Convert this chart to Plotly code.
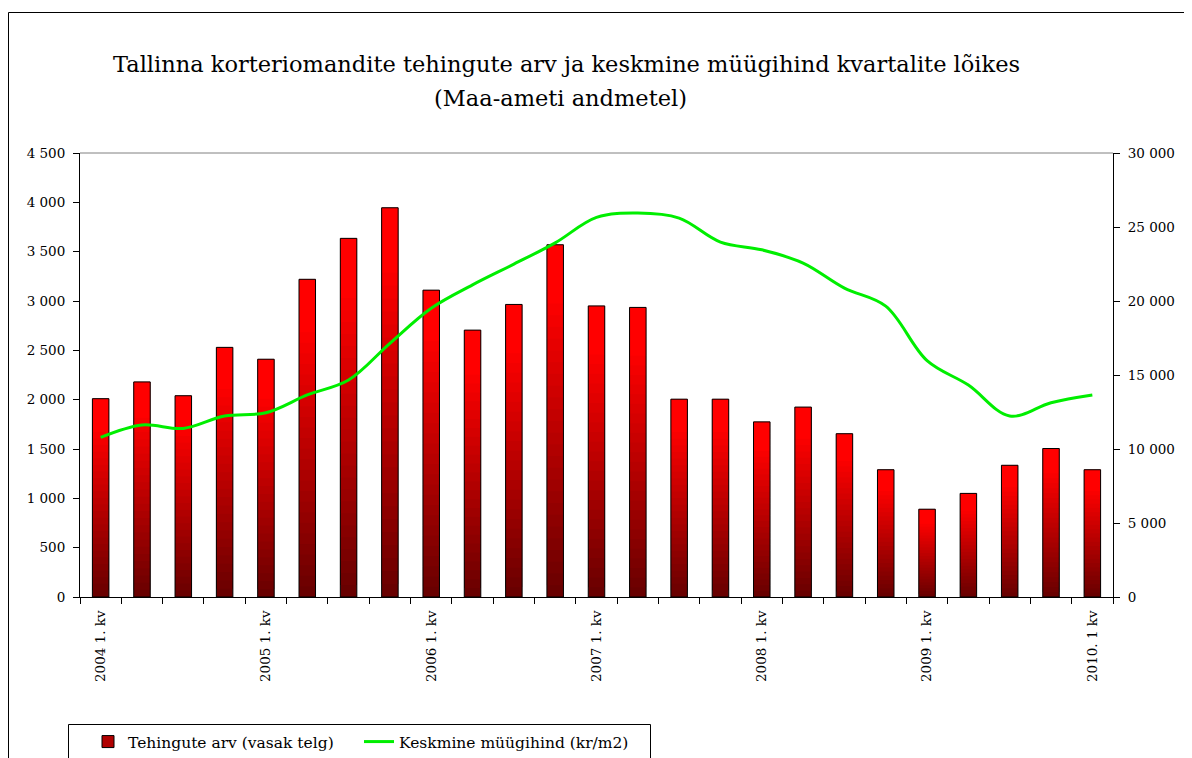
import plotly.graph_objects as go

quarters = [
    "2004 1. kv", "2004 2. kv", "2004 3. kv", "2004 4. kv",
    "2005 1. kv", "2005 2. kv", "2005 3. kv", "2005 4. kv",
    "2006 1. kv", "2006 2. kv", "2006 3. kv", "2006 4. kv",
    "2007 1. kv", "2007 2. kv", "2007 3. kv", "2007 4. kv",
    "2008 1. kv", "2008 2. kv", "2008 3. kv", "2008 4. kv",
    "2009 1. kv", "2009 2. kv", "2009 3. kv", "2009 4. kv",
    "2010. 1 kv",
]
tick_text = [
    "2004 1. kv", "", "", "",
    "2005 1. kv", "", "", "",
    "2006 1. kv", "", "", "",
    "2007 1. kv", "", "", "",
    "2008 1. kv", "", "", "",
    "2009 1. kv", "", "", "",
    "2010. 1 kv",
]
counts = [2010, 2180, 2040, 2530, 2410, 3220, 3635, 3945, 3110, 2705, 2965, 3570,
          2950, 2935, 2005, 2005, 1775, 1925, 1655, 1290, 890, 1050, 1335, 1505, 1290]
prices = [10780, 11620, 11390, 12230, 12450, 13650, 14660, 17140, 19510, 21090, 22490, 23930,
          25650, 25940, 25600, 23980, 23460, 22560, 20870, 19650, 15970, 14320, 12230, 13130, 13650]

title_line1 = "Tallinna korteriomandite tehingute arv ja keskmine müügihind kvartalite lõikes"
title_line2 = "(Maa-ameti andmetel)"
name_bars = "Tehingute arv (vasak telg)"
name_line = "Keskmine müügihind (kr/m2)"

FONT = "DejaVu Serif"
OFF = 8                      # page body margin
W, H = 1192 - OFF, 758 - OFF
# plot area in screenshot pixels
L, R, T, B = 80, 1113, 153, 597

fig = go.Figure()

# gradient bars: each bar split into N overlapping vertical segments
N = 30
BAR_W = 0.4
for k in range(N):
    f = (k + 0.5) / N
    t = min(1.0, f / 0.85)
    r = int(0x66 + (0xFF - 0x66) * t)
    col = f"rgb({r},0,0)"
    fig.add_trace(go.Bar(
        x=quarters,
        y=[min(2 * c / N, c - c * k / N) for c in counts],
        base=[c * k / N for c in counts],
        width=BAR_W,
        marker=dict(color=col, line=dict(width=0)),
        showlegend=False,
        hoverinfo="skip",
    ))

# outline
fig.add_trace(go.Bar(
    x=quarters, y=counts, width=BAR_W,
    marker=dict(color="rgba(0,0,0,0)", line=dict(color="black", width=1)),
    showlegend=False,
))

# legend entry for bars
fig.add_trace(go.Bar(
    x=[None], y=[None], name=name_bars,
    marker=dict(color="#b00000", line=dict(color="black", width=1)),
    showlegend=True,
))

fig.add_trace(go.Scatter(
    x=quarters, y=prices, yaxis="y2", name=name_line,
    mode="lines", line=dict(color="#00ee00", width=3, shape="spline", smoothing=1.0),
))


def px_x(px):
    return (px - L) / (R - L)


def px_y(py):
    return (B - py) / (B - T)


def cont_x(px):
    return (px - OFF) / W


def cont_y(py):
    return 1 - (py - OFF) / H


fig.update_layout(
    width=W, height=H,
    margin=dict(l=L - OFF, r=W - (R - OFF), t=T - OFF, b=H - (B - OFF), pad=0),
    paper_bgcolor="white", plot_bgcolor="white",
    barmode="overlay",
    separators=", ",
    font=dict(family=FONT, size=13.5, color="black"),
    showlegend=True,
    legend=dict(
        orientation="h",
        xref="container", yref="container",
        x=cont_x(88), y=cont_y(742), xanchor="left", yanchor="middle",
        borderwidth=0,
        font=dict(family=FONT, size=15.5),
        entrywidth=226, entrywidthmode="pixels",
        traceorder="normal",
        bgcolor="rgba(0,0,0,0)",
    ),
    xaxis=dict(
        type="category",
        tickvals=quarters, ticktext=tick_text,
        tickson="boundaries",
        ticks="outside", ticklen=6, tickcolor="black",
        tickangle=-90,
        ticklabelstandoff=7,
        showline=True, linecolor="black", linewidth=1,
        showgrid=False, zeroline=False,
        range=[-0.5, len(quarters) - 0.5],
        tickfont=dict(family=FONT, size=13.5),
        automargin=False,
    ),
    yaxis=dict(
        range=[0, 4500], dtick=500, tick0=0,
        tickformat=",d",
        ticks="outside", ticklen=6, tickcolor="black",
        showline=True, linecolor="black", linewidth=1,
        showgrid=False, zeroline=False,
        tickfont=dict(family=FONT, size=13.5),
        ticklabelstandoff=5,
        automargin=False,
    ),
    yaxis2=dict(
        overlaying="y", side="right",
        range=[0, 30000], dtick=5000, tick0=0,
        tickformat=",d",
        ticks="outside", ticklen=6, tickcolor="black",
        showline=True, linecolor="black", linewidth=1,
        showgrid=False, zeroline=False,
        tickfont=dict(family=FONT, size=13.5),
        ticklabelstandoff=5,
        automargin=False,
    ),
    annotations=[
        dict(text=title_line1, xref="paper", yref="paper", x=px_x(566), y=px_y(64),
             xanchor="center", yanchor="middle", showarrow=False,
             font=dict(family=FONT, size=22.5, color="black")),
        dict(text=title_line2, xref="paper", yref="paper", x=px_x(560), y=px_y(98),
             xanchor="center", yanchor="middle", showarrow=False,
             font=dict(family=FONT, size=22.5, color="black")),
    ],
    shapes=[
        dict(type="line", xref="paper", yref="paper", x0=0, x1=1, y0=1, y1=1,
             line=dict(color="#808080", width=1)),
        dict(type="rect", xref="paper", yref="paper",
             x0=px_x(8.5), x1=px_x(1300), y0=px_y(900), y1=px_y(12.5),
             line=dict(color="black", width=1), layer="below"),
        # legend frame
        dict(type="rect", xref="paper", yref="paper",
             x0=px_x(68.5), x1=px_x(650.5), y0=px_y(800), y1=px_y(724.5),
             line=dict(color="black", width=1), layer="below"),
    ],
)

fig.write_html("out.html")
